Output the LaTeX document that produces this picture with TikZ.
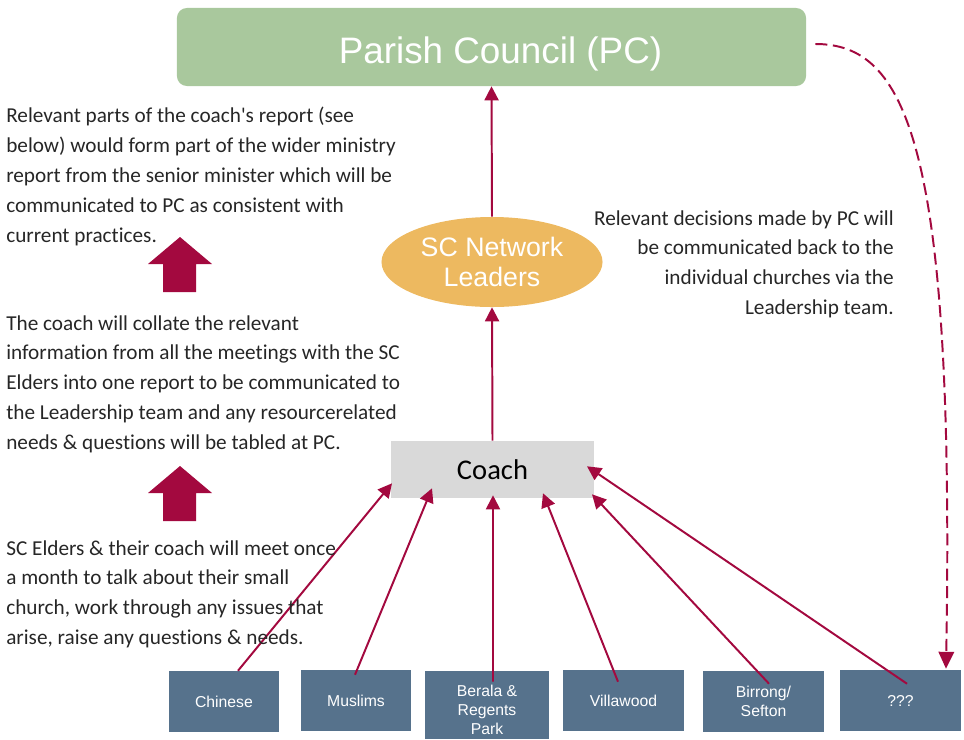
\documentclass[tikz,border=0pt]{standalone}
\usepackage{fontspec}
\setmainfont{Carlito}[Ligatures=NoCommon]
\newfontfamily\arialfont{Liberation Sans}
\usetikzlibrary{arrows.meta,shapes.geometric,calc}
\definecolor{pcgreen}{HTML}{A9C89D}
\definecolor{scorange}{HTML}{EDB960}
\definecolor{coachgrey}{HTML}{D9D9D9}
\definecolor{churchblue}{HTML}{56728C}
\definecolor{linkred}{HTML}{A3093F}

\begin{document}
\begin{tikzpicture}[x=0.025cm,y=-0.025cm,
		church/.style={fill=churchblue,text=white,font=\arialfont\fontsize{11.2}{13.2}\selectfont,
			align=center,inner sep=0pt,minimum height=1.525cm},
		link/.style={linkred,line width=1.4pt,-{Triangle[length=10pt,width=10pt]}},
		note/.style={font=\fontsize{15.1}{21.2}\selectfont,text=black!85,inner sep=0pt}]
		\useasboundingbox (0,0) rectangle (964,739);
		%
		\node[fill=pcgreen,rounded corners=0.25cm,minimum width=15.725cm,minimum height=1.95cm,
			label={[text=white,font=\arialfont\fontsize{26.2}{30}\selectfont,xshift=0.225cm,yshift=-0.18cm]center:Parish Council (PC)}]
			(pc) at (491.5,47) {};
		\node[ellipse,fill=scorange,minimum width=5.525cm,minimum height=2.25cm,inner sep=0pt,align=center,
			text=white,font=\arialfont\fontsize{19}{21.3}\selectfont] (sc) at (492,262) {SC Network\\Leaders};
		\node[fill=coachgrey,minimum width=5.075cm,minimum height=1.425cm,
			font=\fontsize{20.3}{24}\selectfont] (coach) at (492.5,469.5) {Coach};
		%
		\node[church,minimum width=2.75cm] (chi) at (224,701.5) {Chinese};
		\node[church,minimum width=2.75cm] (mus) at (356,700.5) {Muslims};
		\node[church,minimum width=3.1cm,minimum height=1.7cm] (ber) at (487,705) {\rule{0pt}{15pt}Berala \&\\Regents\\Park};
		\node[church,minimum width=3.025cm] (vil) at (623.5,700.5) {Villawood};
		\node[church,minimum width=3.025cm] (bir) at (763.5,701.5) {Birrong/\\Sefton};
		\node[church,minimum width=3.025cm] (unk) at (900.5,700.5) {???};
		%
		\draw[link] (coach.north) -- (sc.south);
		\draw[link] (sc.north) -- (pc.south);
		%
		\draw[link] ($(chi.north)+(14,0)$) -- ($(coach.south)+(-100.5,-15)$);
		\draw[link] ($(mus.north)+(-1,5)$) -- ($(coach.south)+(-60.5,-10)$);
		\draw[link] ($(ber.north)+(6,11)$) -- ($(coach.south)+(0.5,-3)$);
		\draw[link] ($(vil.north)+(-5.5,12)$) -- ($(coach.south)+(50.5,-5)$);
		\draw[link] ($(bir.north)+(5.5,13)$) -- ($(coach.south)+(99.5,-4)$);
		\draw[link] ($(unk.north)+(6.5,14)$) -- ($(coach.south)+(94.5,-32)$);
		%
		\draw[linkred,line width=1.4pt,dash pattern=on 8.5pt off 4pt,-{Triangle[length=12pt,width=11pt]}]
			($(pc.east)+(9,-3)$) .. controls (905,44) and (955,140) .. ($(unk.north)+(45.5,-1)$);
		%
		\foreach \ty in {237,466}
			\fill[linkred] (180,\ty) -- (212,\ty+27) -- (196,\ty+27) -- (196,\ty+55)
				-- (163,\ty+55) -- (163,\ty+27) -- (148,\ty+27) -- cycle;
		%
		\node[note,anchor=north west,align=left] (up) at (6,107) {Relevant parts of the coach\textquotesingle s report (see\\
			below) would form part of the wider ministry\\report from the senior minister which will be\\
			communicated to PC as consistent with\\current practices.};
		\node[note,anchor=north west,align=left] (collate) at (6,315) {The coach will collate the relevant\\
			information from all the meetings with the SC\\Elders into one report to be communicated to\\
			the Leadership team and any resourcerelated\\needs \& questions will be tabled at PC.};
		\node[note,anchor=north west,align=left] (meet) at (6,540) {SC Elders \& their coach will meet once\\
			a month to talk about their small\\church, work through any issues that\\
			arise, raise any questions \& needs.};
		\node[note,anchor=north east,align=right] (back) at (894,210) {Relevant decisions made by PC will\\
			be communicated back to the\\individual churches via the\\Leadership team.};
	\end{tikzpicture}
\end{document}
